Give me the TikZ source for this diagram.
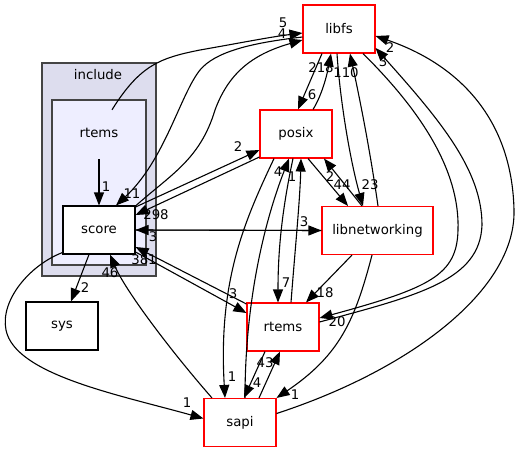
\documentclass[tikz,border=0pt]{standalone}
\usepackage{fontspec}
\setmainfont{DejaVu Sans}
\usetikzlibrary{arrows.meta}
\definecolor{clout}{HTML}{DDDDEE}
\definecolor{clin}{HTML}{EEEEFF}
\definecolor{clborder}{HTML}{444444}
\begin{document}
\begin{tikzpicture}[x=1pt,y=-1pt,
  txt/.style={font=\fontsize{13.3}{15}\selectfont},
  box/.style={txt,draw=black,fill=white,line width=1.1pt,minimum width=72pt,minimum height=48pt,inner sep=0pt},
  redbox/.style={box,draw=red},
  cluster/.style={draw=clborder,line width=1.3pt,inner sep=0pt},
  lbl/.style={txt,inner sep=0pt},
  edge/.style={line width=1.1pt,-{Triangle[length=13pt,width=10pt]}},
]
\useasboundingbox (0,0) rectangle (519,452);
% clusters
\node[cluster,fill=clout,minimum width=114pt,minimum height=213pt] (include) at (99,169.5) {};
\node[txt] (includelbl) at (98,75) {include};
\node[cluster,fill=clin,minimum width=94pt,minimum height=165pt] (rtemscl) at (99,182.5) {};
\node[txt,minimum height=52pt,inner sep=0pt] (rtemsdir) at (99,133) {rtems};
% nodes
\node[box] (score) at (99,230) {score};
\node[box] (sys) at (62,326) {sys};
\node[redbox] (libfs) at (339,29) {libfs};
\node[redbox] (posix) at (296,134) {posix};
\node[redbox,minimum width=111pt] (libnet) at (377.5,230.5) {libnetworking};
\node[redbox] (rtemsR) at (283,327) {rtems};
\node[redbox] (sapi) at (240,422.5) {sapi};
% edges
\draw[edge] (rtemsdir.south) -- (score.north);
\draw[edge] ([xshift=13pt,yshift=-3pt]rtemsdir.north) .. controls (140,65) and (160,58) .. (200,50) .. controls (240,43) and (270,37) .. ([yshift=-4pt]libfs.west);
\draw[edge] ([yshift=-8pt]libfs.west) .. controls (250,43) and (215,52) .. (200,70) .. controls (180,95) and (165,160) .. ([xshift=17pt]score.north);
\draw[edge] ([xshift=36pt,yshift=-1pt]score.north) .. controls (170,175) and (200,160) .. (215,110) .. controls (228,75) and (250,55) .. ([yshift=-11pt]libfs.west);
\draw[edge] ([yshift=23pt]score.east) -- ([yshift=-16pt]posix.west);
\draw[edge] ([yshift=-23pt]posix.west) -- ([yshift=15pt]score.east);
\draw[edge] (libnet.west) -- (score.east);
\draw[edge] (score.east) -- (libnet.west);
\draw[edge] ([yshift=23pt]rtemsR.west) -- ([yshift=-17pt]score.east);
\draw[edge] ([yshift=-22pt]score.east) -- ([yshift=14pt]rtemsR.west);
\draw[edge] ([xshift=-28pt]sapi.north) .. controls (170,350) and (125,290) .. ([xshift=11pt]score.south);
\draw[edge] ([yshift=2pt]score.south west) .. controls (30,265) and (0,300) .. (6,330) .. controls (15,375) and (120,395) .. ([yshift=4pt]sapi.west);
\draw[edge] ([xshift=-10pt]score.south) -- ([xshift=9pt]sys.north);
\draw[edge] ([xshift=-17pt]libfs.south) -- ([xshift=2pt]posix.north);
\draw[edge] ([xshift=17pt]posix.north) .. controls (322,95) and (327,75) .. ([xshift=-8pt]libfs.south);
\draw[edge] ([xshift=-2pt]libfs.south) .. controls (340,100) and (350,160) .. ([xshift=-14.5pt]libnet.north);
\draw[edge] ([xshift=0.5pt]libnet.north) .. controls (370,150) and (360,100) .. ([xshift=11pt]libfs.south);
\draw[edge] ([xshift=12pt]posix.south) -- ([xshift=-29.5pt]libnet.north);
\draw[edge] ([xshift=-15.5pt]libnet.north) -- ([xshift=28pt]posix.south);
\draw[edge] ([xshift=-25.5pt]libnet.south) -- ([xshift=23pt]rtemsR.north);
\draw[edge] ([xshift=-5.5pt]libnet.south) .. controls (355,320) and (340,355) .. (sapi.north east);
\draw[edge] ([xshift=24pt]libfs.south) .. controls (420,110) and (460,170) .. (458,230) .. controls (457,275) and (430,288) .. ([yshift=9pt]rtemsR.east);
\draw[edge] ([yshift=5pt]rtemsR.east) .. controls (420,295) and (480,280) .. (482,225) .. controls (482,170) and (440,120) .. ([yshift=-19pt]libfs.east);
\draw[edge] ([yshift=9pt]sapi.east) .. controls (410,370) and (516,290) .. (514,210) .. controls (512,120) and (460,65) .. ([yshift=-7pt]libfs.east);
\draw[edge] ([xshift=-22pt]posix.south) .. controls (245,220) and (218,280) .. ([xshift=-15pt]sapi.north);
\draw[edge] ([xshift=5pt]sapi.north) .. controls (245,300) and (265,220) .. ([xshift=-7pt]posix.south);
\draw[edge] ([xshift=-18pt]rtemsR.south) -- ([xshift=4pt]sapi.north);
\draw[edge] ([xshift=19pt]sapi.north) -- ([xshift=-3pt]rtemsR.south);
\draw[edge] ([xshift=-3pt]posix.south) .. controls (282,210) and (278,250) .. ([xshift=-5pt]rtemsR.north);
\draw[edge] ([xshift=8pt]rtemsR.north) .. controls (295,250) and (300,200) .. ([xshift=5pt]posix.south);
% labels
\node[lbl] (l1) at (106,187) {1};
\node[lbl] (l2) at (283,23) {5};
\node[lbl] (l3) at (282,34) {4};
\node[lbl] (l4) at (132,194) {11};
\node[lbl] (l5) at (156,215) {298};
\node[lbl] (l6) at (238,147) {2};
\node[lbl] (l7) at (153,237) {3};
\node[lbl] (l8) at (304,222) {3};
\node[lbl] (l9) at (144,260) {381};
\node[lbl] (l10) at (233,294) {3};
\node[lbl] (l11) at (110,273) {46};
\node[lbl] (l12) at (187,403) {1};
\node[lbl] (l13) at (85,288) {2};
\node[lbl] (l14) at (312,95) {6};
\node[lbl] (l15) at (321,68) {218};
\node[lbl] (l16) at (346,73) {110};
\node[lbl] (l17) at (370,185) {23};
\node[lbl] (l18) at (342,185) {44};
\node[lbl] (l19) at (330,177) {2};
\node[lbl] (l20) at (325,293) {18};
\node[lbl] (l21) at (295,395) {1};
\node[lbl] (l22) at (337,322) {20};
\node[lbl] (l23) at (383,62) {3};
\node[lbl] (l24) at (390,48) {2};
\node[lbl] (l25) at (232,377) {1};
\node[lbl] (l26) at (278,172) {4};
\node[lbl] (l27) at (292,177) {1};
\node[lbl] (l28) at (257,383) {4};
\node[lbl] (l29) at (265,363) {43};
\node[lbl] (l30) at (286,283) {7};
\end{tikzpicture}
\end{document}
